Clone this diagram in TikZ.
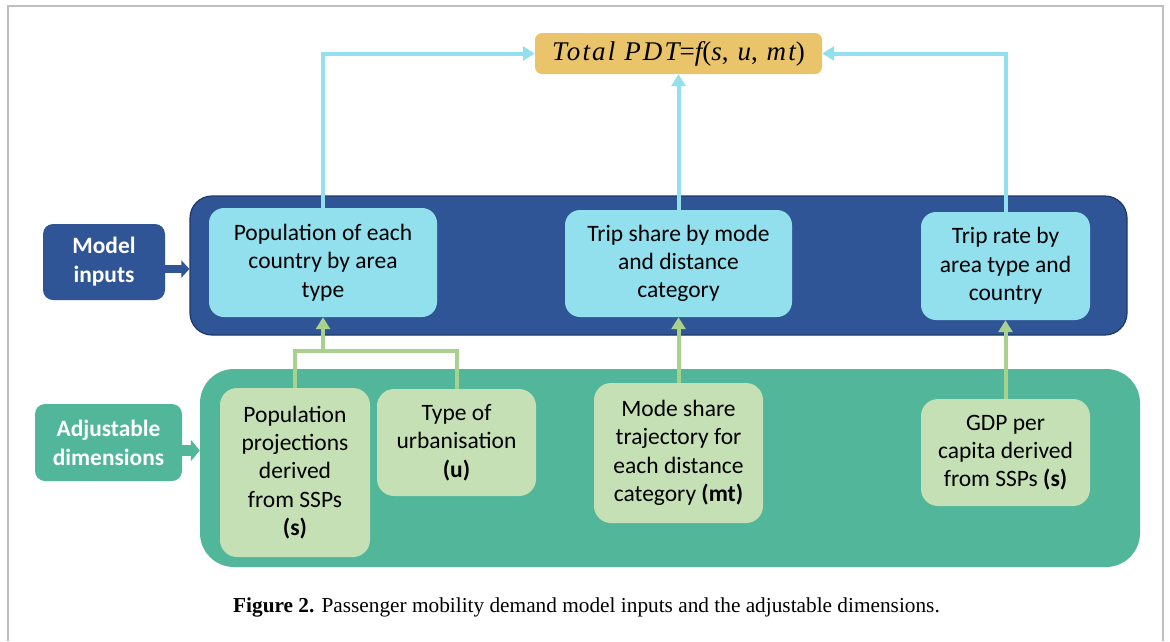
\documentclass[tikz,border=0pt]{standalone}
\usepackage{fontspec}
\setmainfont{Carlito}
\newfontfamily\capfont{Liberation Serif}
\newfontfamily\pdtfont[LetterSpace=8]{Liberation Serif}
\usetikzlibrary{arrows.meta}
\definecolor{dblue}{HTML}{2F5597}
\definecolor{dblueline}{HTML}{1F3864}
\definecolor{cyanbox}{HTML}{92DFEE}
\definecolor{gold}{HTML}{E9C46A}
\definecolor{dgreen}{HTML}{52B69A}
\definecolor{lgreen}{HTML}{C5E0B4}
\definecolor{gline}{HTML}{A9D18E}
\definecolor{frame}{HTML}{BFBFBF}
\tikzset{
  bodytext/.style={font=\fontsize{23.5}{28.3}\selectfont, align=center, inner sep=0pt, text=black},
  cbox/.style={bodytext, fill=cyanbox, rounded corners=15pt},
  gbox/.style={bodytext, fill=lgreen, rounded corners=17pt},
  tagbox/.style={font=\fontsize{23.4}{29}\selectfont\bfseries, align=center, inner sep=0pt, text=white, rounded corners=10pt},
  blueconn/.style={draw=cyanbox, line width=4pt, -{Triangle[width=14pt,length=12pt]}},
  greenconn/.style={draw=gline, line width=4pt},
  greenarrow/.style={greenconn, -{Triangle[width=14pt,length=12pt]}},
}
\begin{document}
\begin{tikzpicture}[x=1pt,y=-1pt]
\useasboundingbox (0,0) rectangle (1170,641);
\fill[white] (0,0) rectangle (1170,641);
% frame
\draw[frame, line width=2pt] (8,641) -- (8,6) -- (1163,6) -- (1163,641);

% big containers
\node[draw=dblueline, line width=1.2pt, fill=dblue, rounded corners=22pt, minimum width=937, minimum height=139, inner sep=0pt] (blue) at (658.5,265.5) {};
\node[fill=dgreen, rounded corners=34pt, minimum width=940, minimum height=198, inner sep=0pt] (green) at (670,468) {};

% side tags
\node[tagbox, fill=dblue, minimum width=122, minimum height=76] (minp) at (104,262) {Model\\inputs};
\node[tagbox, fill=dgreen, minimum width=147, minimum height=77] (adj) at (108.5,442.5) {Adjustable\\dimensions};

% tag arrows
\draw[draw=dblue, line width=8pt, -{Triangle[width=17pt,length=8pt]}] (minp.east |- 0,269) -- (blue.west |- 0,269);
\draw[draw=dgreen, line width=11pt, -{Triangle[width=21pt,length=9pt]}] (adj.east |- 0,450.5) -- (green.west |- 0,450.5);

% top result
\node[fill=gold, rounded corners=7pt, minimum width=287, minimum height=41, inner sep=0pt] (pdt) at (678.5,53.5)
  {\fontsize{27}{29}\selectfont{\pdtfont\itshape Total PDT}{\pdtfont =}{\pdtfont\itshape f}{\pdtfont (}{\pdtfont\itshape s}{\pdtfont , }{\pdtfont\itshape u}{\pdtfont , }{\pdtfont\itshape mt}{\pdtfont )}};

% model inputs
\node[cbox, minimum width=228, minimum height=109] (pop) at (323,262.5) {Population of each\\country by area\\type};
\node[cbox, minimum width=227, minimum height=107] (trips) at (678.5,263.5) {Trip share by mode\\and distance\\category};
\node[cbox, minimum width=169, minimum height=108] (triprate) at (1005.5,266) {Trip rate by\\area type and\\country};

% adjustable dimensions
\node[gbox, minimum width=150, minimum height=169] (popproj) at (295,472.5) {Population\\projections\\derived\\from SSPs\\\textbf{(s)}};
\node[gbox, minimum width=159, minimum height=107] (urb) at (456.5,442.5) {Type of\\urbanisation\\\textbf{(u)}};
\node[gbox, minimum width=169, minimum height=140] (mode) at (678.5,453) {Mode share\\trajectory for\\each distance\\category \textbf{(mt)}};
\node[gbox, minimum width=169, minimum height=107] (gdp) at (1005.5,452.5) {GDP per\\capita derived\\from SSPs \textbf{(s)}};

% blue connectors
\draw[blueconn] (pop.north) |- (pdt.west);
\draw[blueconn] (trips.north) -- (pdt.south);
\draw[blueconn] (triprate.north) |- (pdt.east);

% green connectors
\coordinate (j) at (323,351);
\draw[greenconn] (popproj.north) -- (popproj.north |- j) -| (urb.north);
\draw[greenarrow] (j) -- (pop.south);
\draw[greenarrow] (mode.north) -- (trips.south);
\draw[greenarrow] (gdp.north) -- (triprate.south);

% caption
\node[font=\capfont\fontsize{21.3}{24}\selectfont, inner sep=0pt] (cap) at (586.5,607) {\textbf{Figure 2.} Passenger mobility demand model inputs and the adjustable dimensions.};
\end{tikzpicture}
\end{document}
